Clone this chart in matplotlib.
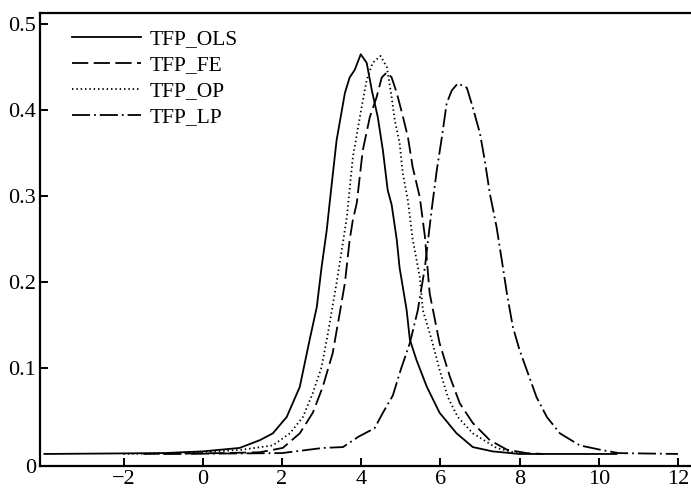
import matplotlib
matplotlib.use("Agg")
import matplotlib.pyplot as plt

# Curvas de densidad (x = TFP, y = densidad)
ols_x = [-4.0, -1.0, 0.0, 0.93, 1.44, 1.77, 2.12, 2.45, 2.70, 2.88, 3.0, 3.13, 3.2, 3.38, 3.59, 3.71,
         3.84, 3.99, 4.14, 4.27, 4.42, 4.55, 4.67, 4.77, 4.9, 4.97, 5.15, 5.23, 5.40, 5.66, 5.98,
         6.41, 6.82, 7.32, 8.0, 10.45]
ols_y = [0.0, 0.001, 0.003, 0.007, 0.016, 0.024, 0.043, 0.078, 0.133, 0.171, 0.217, 0.26, 0.29, 0.365,
         0.42, 0.438, 0.447, 0.465, 0.455, 0.423, 0.392, 0.353, 0.307, 0.29, 0.249, 0.217, 0.167,
         0.133, 0.109, 0.078, 0.048, 0.024, 0.008, 0.003, 0.0, 0.0]

fe_x = [-1.5, 0.5, 1.44, 2.02, 2.45, 2.78, 3.03, 3.28, 3.46, 3.59, 3.71, 3.79, 3.89, 4.04, 4.22, 4.39,
        4.52, 4.65, 4.77, 4.90, 5.03, 5.18, 5.30, 5.48, 5.61, 5.73, 5.98, 6.24, 6.49, 6.82, 7.25,
        7.68, 8.18, 8.6]
fe_y = [0.0, 0.001, 0.002, 0.007, 0.024, 0.048, 0.078, 0.117, 0.164, 0.199, 0.249, 0.272, 0.292,
        0.353, 0.392, 0.415, 0.438, 0.444, 0.438, 0.42, 0.397, 0.369, 0.334, 0.299, 0.253, 0.187,
        0.129, 0.09, 0.059, 0.036, 0.016, 0.005, 0.001, 0.0]

op_x = [-2.0, 0.0, 1.0, 1.77, 2.2, 2.53, 2.78, 3.0, 3.16, 3.26, 3.38, 3.51, 3.64, 3.79, 4.01, 4.14,
        4.29, 4.49, 4.65, 4.77, 4.85, 4.97, 5.05, 5.18, 5.30, 5.48, 5.56, 5.78, 5.98, 6.19, 6.44,
        6.82, 7.42, 8.0]
op_y = [0.0, 0.002, 0.005, 0.01, 0.024, 0.043, 0.071, 0.101, 0.14, 0.167, 0.199, 0.237, 0.276,
        0.345, 0.403, 0.435, 0.455, 0.463, 0.45, 0.415, 0.388, 0.362, 0.327, 0.295, 0.25, 0.206,
        0.167, 0.133, 0.098, 0.066, 0.043, 0.024, 0.007, 0.0]

lp_x = [-1.0, 2.0, 3.03, 3.54, 3.93, 4.34, 4.55, 4.80, 5.0, 5.23, 5.43, 5.61, 5.68, 5.78, 5.91, 6.04,
        6.16, 6.29, 6.44, 6.67, 6.82, 7.0, 7.12, 7.25, 7.42, 7.55, 7.68, 7.83, 8.0, 8.18, 8.43,
        8.69, 9.02, 9.52, 10.03, 10.5, 12.0]
lp_y = [0.0, 0.001, 0.007, 0.008, 0.02, 0.03, 0.048, 0.068, 0.098, 0.129, 0.167, 0.217, 0.245,
        0.284, 0.33, 0.369, 0.408, 0.423, 0.431, 0.426, 0.403, 0.373, 0.342, 0.303, 0.264, 0.226,
        0.187, 0.148, 0.121, 0.098, 0.066, 0.043, 0.024, 0.01, 0.005, 0.001, 0.0]

etiquetas = ["TFP_OLS", "TFP_FE", "TFP_OP", "TFP_LP"]
xticks = [-2, 0, 2, 4, 6, 8, 10, 12]
yticks = [0.1, 0.2, 0.3, 0.4, 0.5]

plt.rcParams["font.family"] = ["Liberation Serif", "DejaVu Serif"]

fig = plt.figure(figsize=(6.91, 4.90), dpi=100)
ax = fig.add_axes([40 / 691, 24 / 490, 1 - 40 / 691, (466 - 13) / 490])

lw = 1.3
ax.plot(ols_x, ols_y, color="black", lw=lw, linestyle="-", label=etiquetas[0])
ax.plot(fe_x, fe_y, color="black", lw=lw, linestyle=(0, (9, 3)), label=etiquetas[1])
ax.plot(op_x, op_y, color="black", lw=lw, linestyle=(0, (0.8, 1.6)), label=etiquetas[2])
ax.plot(lp_x, lp_y, color="black", lw=lw, linestyle=(0, (10, 2.2, 1, 2.2)), label=etiquetas[3])

ax.set_xlim(-4.11, 12.33)
ax.set_ylim(-0.014, 0.513)

# El "0" va en la base del eje, como en el original
ax.set_yticks([-0.014] + yticks)
ax.set_yticklabels(["0"] + [f"{v:.1f}" for v in yticks])
ax.set_xticks(xticks)
ax.set_xticklabels([str(v).replace("-", "\u2212") for v in xticks])

ax.tick_params(direction="in", length=6, width=1.4, labelsize=16, pad=3)
ax.yaxis.get_major_ticks()[0].tick1line.set_visible(False)

ax.spines["right"].set_visible(False)
for s in ["left", "bottom", "top"]:
    ax.spines[s].set_linewidth(1.6)

ax.legend(loc="upper left", bbox_to_anchor=(72 / 691, 1 - 29 / 490),
          bbox_transform=fig.transFigure, frameon=False, fontsize=15.5,
          handlelength=3.2, handletextpad=0.4, labelspacing=0.28,
          borderpad=0, borderaxespad=0)

plt.savefig("out.png", dpi=100)
plt.close()
